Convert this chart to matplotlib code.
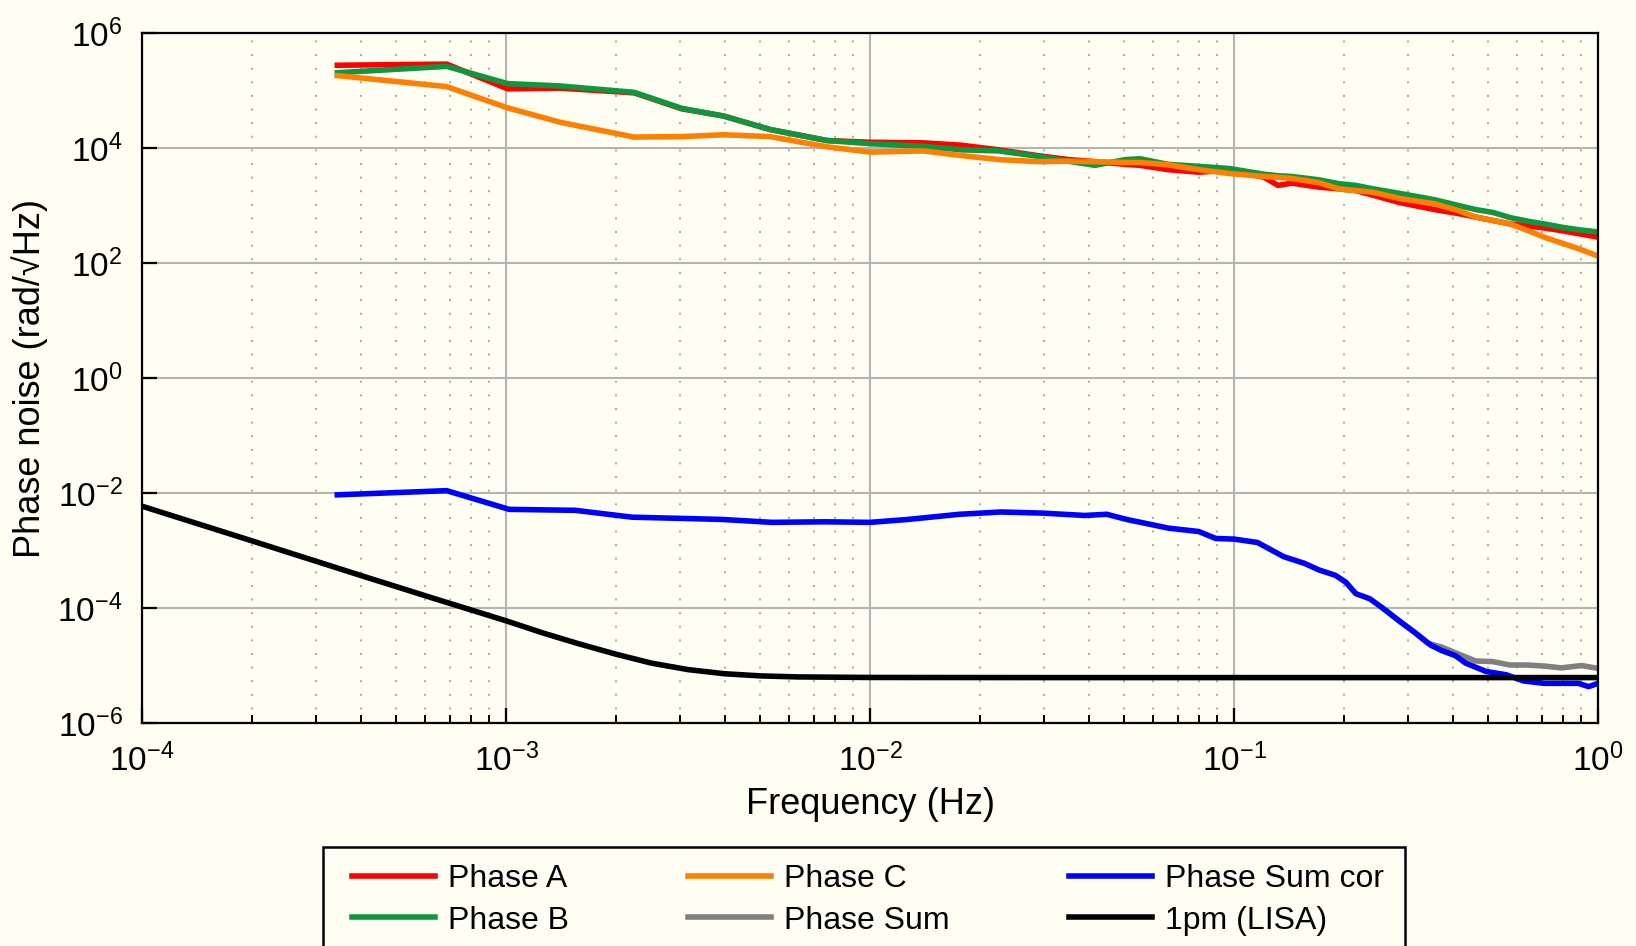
import matplotlib
matplotlib.use("Agg")
import matplotlib.pyplot as plt
from matplotlib.patches import Rectangle
from matplotlib.ticker import LogLocator, NullLocator, FixedLocator

plt.rcParams['font.family'] = ['Liberation Sans', 'DejaVu Sans']
plt.rcParams['mathtext.fontset'] = 'custom'
plt.rcParams['mathtext.rm'] = 'Liberation Sans'

# frequency grid shared by the three phase channels (Hz)
freq = [3.44e-4, 6.87e-4, 1.01e-3, 1.41e-3, 2.25e-3, 3.04e-3, 3.96e-3, 5.31e-3,
        7.62e-3, 1.0e-2, 1.40e-2, 1.78e-2, 2.26e-2, 2.88e-2, 3.5e-2, 4.15e-2,
        5.04e-2, 5.52e-2, 6.59e-2, 8.0e-2, 9.72e-2, 0.121, 0.132, 0.144, 0.171,
        0.194, 0.216, 0.241, 0.286, 0.356, 0.414, 0.461, 0.514, 0.573, 0.65,
        0.711, 0.8, 0.883, 1.0]

phase_a = [2.75e5, 2.88e5, 1.07e5, 1.10e5, 9.1e4, 4.8e4, 3.6e4, 2.1e4,
           1.35e4, 1.26e4, 1.23e4, 1.12e4, 9.3e3, 7.4e3, 6.3e3, 5.8e3,
           5.2e3, 5.0e3, 4.2e3, 3.8e3, 4.1e3, 3.1e3, 2.24e3, 2.45e3, 2.09e3,
           1.95e3, 1.82e3, 1.51e3, 1.12e3, 850, 724, 631, 550, 479, 437,
           407, 363, 324, 282]

phase_b = [2.04e5, 2.63e5, 1.32e5, 1.20e5, 9.3e4, 4.9e4, 3.6e4, 2.1e4,
           1.35e4, 1.19e4, 1.07e4, 9.3e3, 8.9e3, 7.2e3, 5.9e3, 5.0e3,
           6.3e3, 6.5e3, 5.2e3, 4.8e3, 4.4e3, 3.5e3, 3.3e3, 3.2e3, 2.8e3,
           2.4e3, 2.24e3, 1.95e3, 1.62e3, 1.26e3, 1.0e3, 851, 759, 617, 525,
           479, 417, 380, 347]

phase_c = [1.82e5, 1.17e5, 5.0e4, 2.8e4, 1.55e4, 1.58e4, 1.70e4, 1.58e4,
           1.05e4, 8.5e3, 8.9e3, 7.4e3, 6.3e3, 5.8e3, 5.9e3, 5.8e3,
           5.6e3, 5.6e3, 5.1e3, 4.2e3, 3.6e3, 3.2e3, 3.1e3, 2.95e3, 2.5e3,
           1.95e3, 1.82e3, 1.70e3, 1.32e3, 1.07e3, 813, 631, 550, 479, 355,
           282, 219, 178, 132]

# phase sum, corrected
cor_freq = [3.44e-4, 6.87e-4, 1.02e-3, 1.55e-3, 2.22e-3, 3.43e-3, 3.92e-3, 5.37e-3,
            7.48e-3, 1.0e-2, 1.27e-2, 1.76e-2, 2.29e-2, 2.99e-2, 3.89e-2, 4.47e-2,
            5.07e-2, 6.61e-2, 8.0e-2, 8.91e-2, 0.1, 0.116, 0.137, 0.156, 0.171,
            0.190, 0.203, 0.216, 0.236, 0.257, 0.286, 0.313, 0.348, 0.372, 0.406,
            0.433, 0.492, 0.560, 0.624, 0.711, 0.792, 0.883, 0.942, 1.0]
phase_sum_cor = [9.3e-3, 1.10e-2, 5.2e-3, 5.0e-3, 3.8e-3, 3.55e-3, 3.47e-3, 3.09e-3,
                 3.16e-3, 3.09e-3, 3.47e-3, 4.27e-3, 4.68e-3, 4.47e-3, 4.07e-3, 4.27e-3,
                 3.47e-3, 2.45e-3, 2.14e-3, 1.62e-3, 1.58e-3, 1.38e-3, 7.8e-4, 6.0e-4, 4.6e-4,
                 3.7e-4, 2.8e-4, 1.78e-4, 1.45e-4, 9.8e-5, 5.8e-5, 3.8e-5, 2.24e-5, 1.82e-5, 1.48e-5,
                 1.10e-5, 7.9e-6, 6.9e-6, 5.4e-6, 4.9e-6, 4.9e-6, 4.9e-6, 4.3e-6, 4.9e-6]

# phase sum, uncorrected (visible only where it leaves the corrected curve)
sum_freq = [0.257, 0.286, 0.313, 0.340, 0.372, 0.414, 0.461, 0.514, 0.573,
            0.638, 0.711, 0.792, 0.902, 1.0]
phase_sum = [9.8e-5, 5.8e-5, 3.8e-5, 2.45e-5, 2.09e-5, 1.58e-5, 1.20e-5, 1.17e-5, 1.02e-5,
             1.02e-5, 9.8e-6, 9.1e-6, 1.0e-5, 8.9e-6]

# 1 pm LISA requirement expressed as phase
lisa_freq = [1e-4, 2.0e-4, 3.98e-4, 6.31e-4, 1.0e-3, 1.26e-3, 1.58e-3, 2.0e-3, 2.51e-3,
             3.16e-3, 3.98e-3, 5.01e-3, 6.31e-3, 1e-2, 3.16e-2, 1.0]
lisa = [5.9e-3, 1.48e-3, 3.7e-4, 1.48e-4, 6.0e-5, 3.7e-5, 2.4e-5, 1.58e-5, 1.10e-5,
        8.5e-6, 7.2e-6, 6.6e-6, 6.34e-6, 6.2e-6, 6.17e-6, 6.17e-6]

bg = '#fefef2'
fig = plt.figure(figsize=(16.36, 9.46), dpi=100, facecolor=bg)
ax = fig.add_axes([0.0868, 0.2357, 0.8900, 0.7294], facecolor=bg)

lw = 4.0
ax.plot(freq, phase_a, color='#ff0000', lw=lw, label='Phase A')
ax.plot(freq, phase_b, color='#119640', lw=lw, label='Phase B')
ax.plot(freq, phase_c, color='#ff8000', lw=lw, label='Phase C')
ax.plot(sum_freq, phase_sum, color='#808080', lw=lw, label='Phase Sum')
ax.plot(cor_freq, phase_sum_cor, color='#0000ff', lw=lw, label='Phase Sum cor')
ax.plot(lisa_freq, lisa, color='black', lw=lw, label='1pm (LISA)')

ax.set_xscale('log')
ax.set_yscale('log')
ax.set_xlim(1e-4, 1)
ax.set_ylim(1e-6, 1e6)
ax.set_yticks([1e-6, 1e-4, 1e-2, 1e0, 1e2, 1e4, 1e6])
ax.yaxis.set_minor_locator(NullLocator())
ax.xaxis.set_major_locator(FixedLocator([1e-4, 1e-3, 1e-2, 1e-1, 1]))
ax.xaxis.set_minor_locator(LogLocator(base=10, subs=range(2, 10), numticks=20))

ax.grid(True, which='major', color='#b4b4b4', lw=1.5, ls='-')
ax.grid(True, which='minor', axis='x', color='#a8a8a8', lw=1.4, ls=(0, (1, 6)))
ax.set_axisbelow(True)

for s in ax.spines.values():
    s.set_linewidth(1.6)
    s.set_color('black')
ax.tick_params(which='both', direction='in', top=False, right=False)
ax.tick_params(which='major', length=11, width=1.6, labelsize=24)
ax.tick_params(axis='x', which='major', pad=15)
ax.tick_params(axis='y', which='major', pad=14)
ax.tick_params(which='minor', length=6, width=1.4)

ax.set_xlabel('Frequency (Hz)', fontsize=26, labelpad=6)
ax.set_ylabel('Phase noise (rad/\u221aHz)', fontsize=26, labelpad=7)

# legend box runs off the bottom of the figure, as in the original
fig.patches.append(Rectangle((323 / 1636, -0.05), (1405 - 323) / 1636, 0.05 + (946 - 847) / 946,
                             transform=fig.transFigure, fill=True, facecolor=bg,
                             edgecolor='black', lw=1.8, zorder=1))
leg = fig.legend(loc='upper left', bbox_to_anchor=(352 / 1636, 1 - 864 / 946), ncol=3,
                 fontsize=23, frameon=False, handlelength=2.6,
                 handletextpad=0.39, columnspacing=3.75, labelspacing=0.36,
                 borderpad=0, borderaxespad=0)
leg.set_zorder(2)

fig.savefig('out.png', dpi=100, facecolor=bg)
